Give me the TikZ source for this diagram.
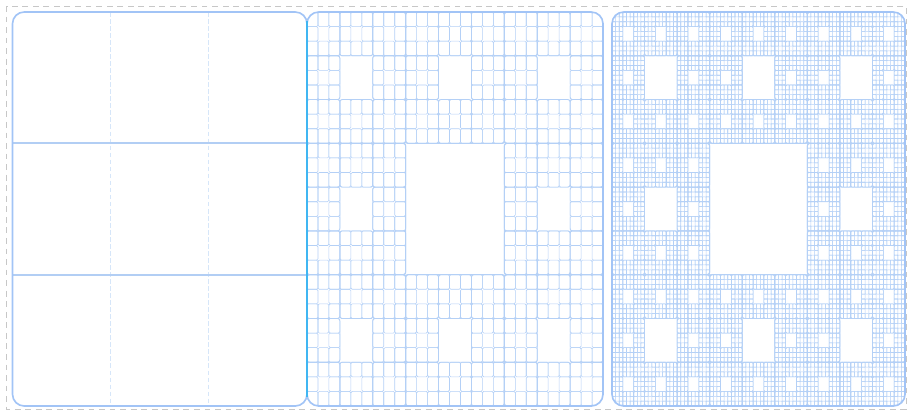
\documentclass[tikz,border=0pt]{standalone}
\usepackage{tikz}

\definecolor{frameblue}{RGB}{162,196,246}
\definecolor{meshblue}{RGB}{180,208,246}
\definecolor{seamcyan}{RGB}{64,182,242}
\definecolor{guideblue}{RGB}{214,230,249}
\definecolor{thirdblue}{RGB}{178,206,244}

% one cell of the carpet
\newcommand\carpetcell[4]{%
  \pgfmathsetmacro\cellr{min(0.12*#3,2.5)*0.8536}%
  \pgfmathsetmacro\celllw{0.45+0.005*#3}%
  \draw[mesh, rounded corners=\cellr pt, line width=\celllw pt]
    (#1,#2) rectangle ++(#3,#4);}

% x, y, width, height, depth
\newcommand\carpet[5]{%
  \ifnum#5>0
    \foreach \i in {0,1,2}{%
      \foreach \j in {0,1,2}{%
        \ifnum\i\j=11 \else
          \pgfmathsetmacro\nw{#3/3}%
          \pgfmathsetmacro\nh{#4/3}%
          \pgfmathsetmacro\nx{#1+\i*\nw}%
          \pgfmathsetmacro\ny{#2+\j*\nh}%
          \carpetcell{\nx}{\ny}{\nw}{\nh}%
          \edef\next{\noexpand\carpet{\nx}{\ny}{\nw}{\nh}{\the\numexpr#5-1\relax}}%
          \next
        \fi}}%
  \fi}

\begin{document}
\begin{tikzpicture}[
    x=0.03cm, y=-0.03cm,
    frame/.style={draw=frameblue, line width=1.4pt, rounded corners=10pt},
    mesh/.style={draw=meshblue},
    thirds/.style={draw=thirdblue, line width=1.4pt},
    guide/.style={draw=guideblue, line width=0.6pt, dash pattern=on 4pt off 2pt},
    seam/.style={draw=seamcyan, line width=1.2pt},
    outline/.style={draw=black!22, line width=0.6pt, dash pattern=on 5pt off 4pt},
  ]
  \useasboundingbox (0,0) rectangle (907,410);
  \draw[outline] (6.5,6) rectangle (906,409);

  % Panel 1
  \draw[guide] (110.7,12) -- (110.7,406);
  \draw[guide] (208.8,12) -- (208.8,406);
  \draw[thirds] (12.5,143.3) -- (307,143.3);
  \draw[thirds] (12.5,274.7) -- (307,274.7);
  \draw[frame] (12.5,12) rectangle (307,406);

  % Panel 2
  \begin{scope}
    \clip[rounded corners=10pt] (307,12) rectangle (603,406);
    \carpet{307}{12}{296}{394}{3}
  \end{scope}
  \draw[frame] (307,12) rectangle (603,406);

  % Panel 3
  \begin{scope}
    \clip[rounded corners=10pt] (612,12) rectangle (905,406);
    \carpet{612}{12}{293}{394}{4}
  \end{scope}
  \draw[frame] (612,12) rectangle (905,406);

  % seam between panel 1 and 2
  \draw[seam] (307,21) -- (307,397);
\end{tikzpicture}
\end{document}
